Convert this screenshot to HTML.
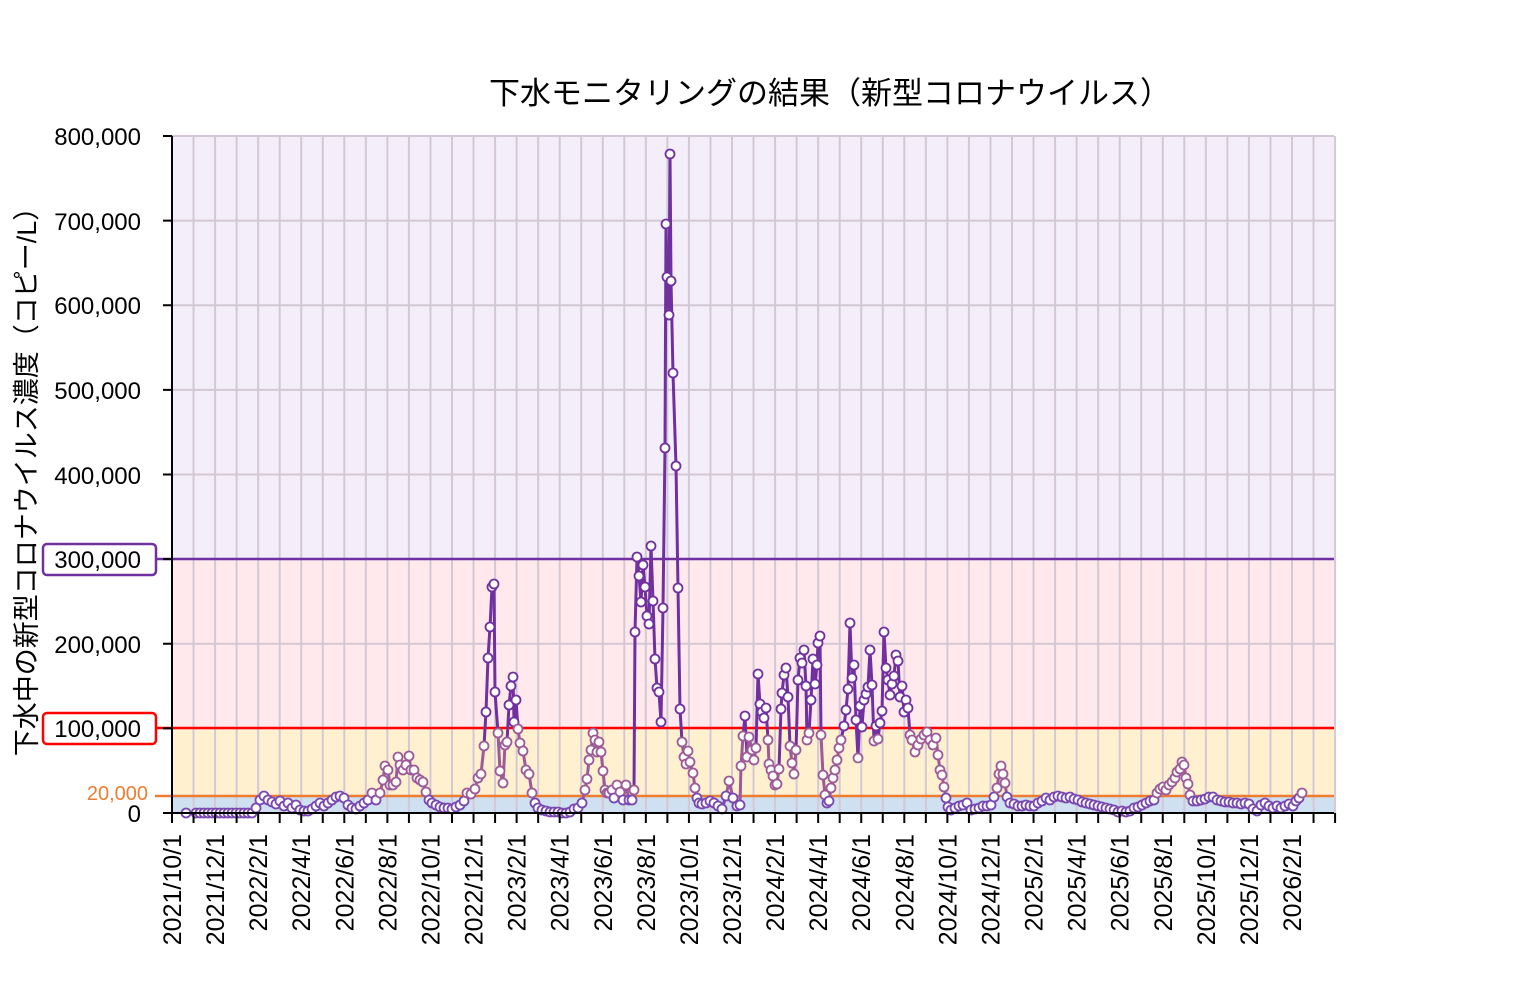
<!DOCTYPE html>
<html><head><meta charset="utf-8"><style>
body{margin:0;background:#fff;}
svg text{font-family:"Liberation Sans","Noto Sans CJK JP",sans-serif;}
</style></head><body>
<svg id="s" width="1524" height="995" xmlns="http://www.w3.org/2000/svg">
<rect x="172" y="136" width="1162" height="423" fill="#f3eefa"/>
<rect x="172" y="559" width="1162" height="169" fill="#ffe9ec"/>
<rect x="172" y="728" width="1162" height="68" fill="#fff1d0"/>
<rect x="172" y="796" width="1162" height="17" fill="#cfe0f0"/>
<g id="grid"></g>
<line x1="157" y1="559" x2="1334" y2="559" stroke="#7030a0" stroke-width="2.5"/>
<line x1="157" y1="728" x2="1334" y2="728" stroke="#ff0000" stroke-width="2.5"/>
<line x1="155" y1="796" x2="1334" y2="796" stroke="#ed7d31" stroke-width="2.5"/>
<g id="series"></g>
<line x1="172" y1="136" x2="172" y2="814" stroke="#000" stroke-width="2"/>
<line x1="163" y1="813" x2="1334" y2="813" stroke="#000" stroke-width="2"/>
<g id="ticks"></g>
<text x="830" y="104" font-size="31" text-anchor="middle">下水モニタリングの結果（新型コロナウイルス）</text>
<text transform="translate(36,475) rotate(-90)" font-size="27" text-anchor="middle">下水中の新型コロナウイルス濃度（コピー/L）</text>
<g font-size="24" text-anchor="end">
<text x="141" y="145">800,000</text>
<text x="141" y="230">700,000</text>
<text x="141" y="314">600,000</text>
<text x="141" y="399">500,000</text>
<text x="141" y="484">400,000</text>
<text x="141" y="653">200,000</text>
<text x="141" y="822">0</text>
</g>
<rect x="43" y="544" width="113" height="31" rx="4" fill="#fff" stroke="#7030a0" stroke-width="2.5"/>
<text x="141" y="568" font-size="24" text-anchor="end">300,000</text>
<rect x="43" y="713" width="113" height="31" rx="4" fill="#fff" stroke="#ff0000" stroke-width="2.5"/>
<text x="141" y="737" font-size="24" text-anchor="end">100,000</text>
<text x="148" y="800" font-size="20" fill="#ed7d31" text-anchor="end">20,000</text>
</svg>
<script>
var NS="http://www.w3.org/2000/svg";
function el(p,t,a){var e=document.createElementNS(NS,t);for(var k in a)e.setAttribute(k,a[k]);p.appendChild(e);return e;}
var g=document.getElementById('grid'),tk=document.getElementById('ticks'),S=document.getElementById('s');
var dx=(1292-172)/52;
for(var i=1;i<=54;i++){var x=172+i*dx;el(g,'line',{x1:x,y1:136,x2:x,y2:813,stroke:'#d4c8d4','stroke-width':2});}
for(var v=1;v<=8;v++){var y=813-v*84.625;el(g,'line',{x1:172,y1:y,x2:1334,y2:y,stroke:'#d4c8d4','stroke-width':2});el(tk,'line',{x1:163,y1:y,x2:172,y2:y,stroke:'#000','stroke-width':2});}
for(var i=0;i<=54;i++){var x=172+i*dx;el(tk,'line',{x1:x,y1:813,x2:x,y2:823,stroke:'#000','stroke-width':2});}
for(var i=0;i<=52;i+=2){var x=172+i*dx;var m=10+i,yr=2021;while(m>12){m-=12;yr++;}
var t=el(S,'text',{transform:'translate('+(x+9)+',834) rotate(-90)','font-size':25,'text-anchor':'end'});t.textContent=yr+'/'+m+'/1';}
var d=[186,813];for(var x=196;x<=252;x+=4)d.push(x,813);
d=d.concat([256,808,260,800,264,796,268,800,272,802,276,804,280,801,284,806,288,803,292,808,296,805,300,810,304,811,308,811,312,809,316,806,320,803,324,806,328,803,332,800,336,797,340,796,344,798,348,805,352,808,356,809,360,806,364,803,368,800,372,793,376,800,380,793,383,780,385,766,388,770,390,785,393,785,396,782,398,757,400,765,403,770,406,765,409,756,411,770,414,770,417,778,420,780,423,782,426,792,429,800,432,803,436,805,440,807,444,808,448,808,452,809,456,807,460,805,464,801,467,793,471,794,475,789,478,778,481,774,484,746,486,712,488,658,490,627,492,587,494,584,495,692,498,733,500,771,503,783,505,745,507,742,509,705,511,686,513,677,514,722,516,700,518,729,520,743,523,751,526,770,529,774,532,793,535,803,538,808,542,810,546,811,550,812,554,812,558,812,562,813,566,813,570,812,574,809,578,808,582,803,585,790,587,779,589,760,591,750,593,733,595,740,597,752,599,742,601,752,603,771,605,790,607,793,609,793,612,790,614,798,617,785,620,792,623,800,626,785,629,800,632,800,634,790,635,632,637,557,639,576,641,602,643,565,645,587,647,616,649,624,651,546,653,601,655,659,657,688,659,692,661,722,663,608,665,448,666,224,667,277,669,315,670,154,671,281,673,373,676,466,678,588,680,709,682,742,684,757,686,764,688,751,690,762,693,773,695,788,697,798,699,803,702,804,706,803,710,801,714,803,718,806,722,809,726,796,729,781,733,798,737,806,740,805,741,766,743,736,745,716,747,757,749,737,752,750,754,760,756,748,758,674,760,704,762,712,764,718,766,708,768,740,769,764,771,770,773,776,775,785,777,784,779,769,781,709,782,693,784,675,786,668,788,697,790,746,792,763,794,774,796,750,798,680,800,658,802,663,804,650,806,686,807,740,809,733,811,700,813,659,815,684,817,665,818,643,820,636,821,735,823,775,825,795,827,803,829,801,831,788,833,778,835,770,837,760,839,748,841,740,844,726,846,710,848,689,850,623,852,678,854,665,856,720,858,758,860,706,862,727,864,700,866,694,868,687,870,650,872,685,874,741,876,726,878,739,880,723,882,711,884,632,886,668,888,680,890,695,892,684,894,676,896,655,898,661,900,697,902,686,904,712,906,700,908,708,910,735,912,740,915,752,918,745,921,739,924,735,927,732,930,740,933,745,936,738,938,755,940,770,942,775,944,787,946,798,948,807,951,810,955,808,959,806,963,805,967,803,971,810,975,809,979,808,983,806,987,806,991,805,994,797,997,788,999,774,1001,766,1003,774,1005,783,1007,797,1010,803,1014,804,1018,806,1022,806,1026,805,1030,806,1034,806,1038,803,1042,801,1046,798,1050,800,1054,797,1058,796,1062,797,1066,798,1070,797,1074,799,1078,800,1082,802,1086,803,1090,804,1094,805,1098,806,1102,807,1106,808,1110,809,1114,810,1118,812,1122,811,1126,812,1130,811,1134,808,1138,807,1142,805,1146,803,1150,801,1154,800,1157,793,1160,789,1163,787,1166,790,1169,785,1172,782,1175,778,1177,772,1180,769,1182,762,1184,765,1186,778,1188,784,1190,795,1193,801,1197,801,1201,800,1205,799,1209,797,1213,797,1217,800,1221,801,1225,802,1229,802,1233,803,1237,803,1241,804,1245,803,1249,804,1253,809,1257,811,1261,805,1265,803,1269,806,1273,808,1277,806,1281,808,1285,806,1289,804,1293,806,1296,801,1299,798,1302,793]);
function col(y){return y<728?'#7030a0':(y<796?'#9c5a98':'#7848b0');}
var s=document.getElementById('series');
for(var i=0;i+3<d.length;i+=2){var ym=Math.min(d[i+1],d[i+3]);el(s,'line',{x1:d[i],y1:d[i+1],x2:d[i+2],y2:d[i+3],stroke:col(ym),'stroke-width':3});}
for(var i=0;i<d.length;i+=2){el(s,'circle',{cx:d[i],cy:d[i+1],r:4.5,fill:'#fff',stroke:col(d[i+1]),'stroke-width':1.8});}
</script>
</body></html>
